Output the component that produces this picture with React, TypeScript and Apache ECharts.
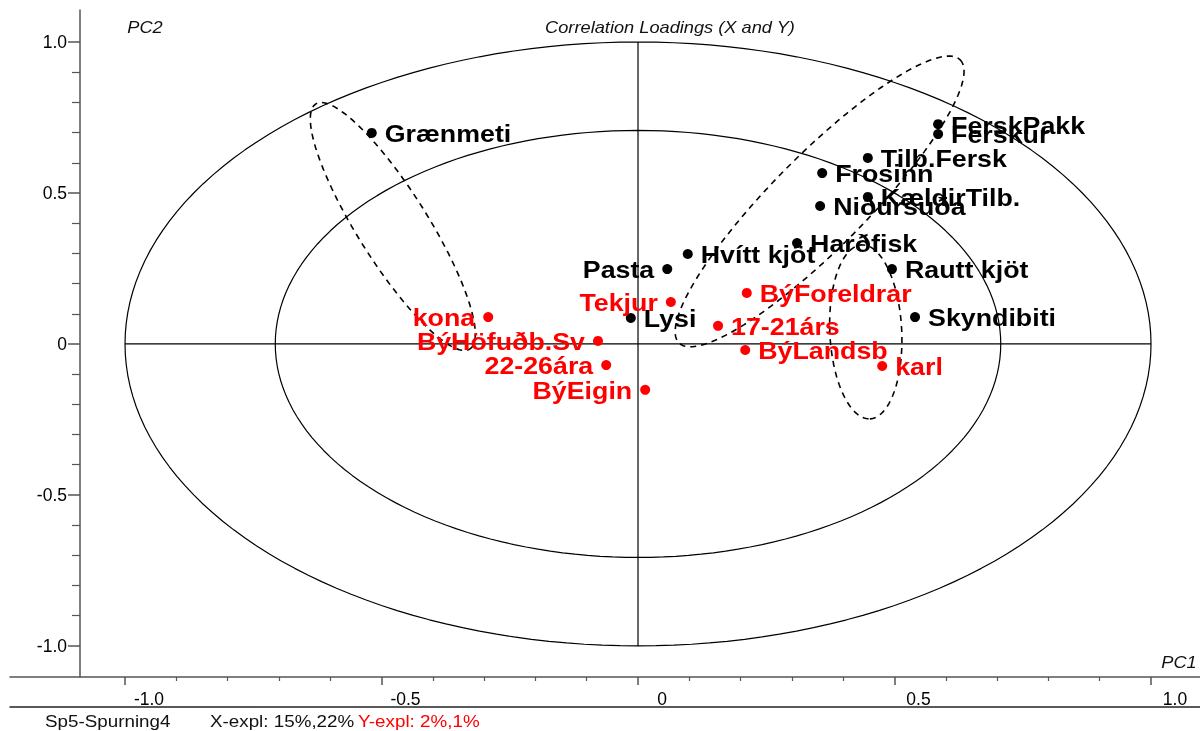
import React, { useEffect, useRef } from 'react';
import * as echarts from 'echarts';

// ---- Data: correlation loadings (PC1, PC2) ----
const blackNames = ['Grænmeti', 'FerskPakk', 'Ferskur', 'Tilb.Fersk', 'Frosinn', 'KældirTilb.', 'Niðursuða', 'Harðfisk', 'Hvítt kjöt', 'Pasta', 'Rautt kjöt', 'Lysi', 'Skyndibiti'];
const blackPC1 = [-0.519, 0.585, 0.585, 0.448, 0.359, 0.448, 0.355, 0.310, 0.097, 0.057, 0.495, -0.014, 0.540];
const blackPC2 = [0.699, 0.728, 0.695, 0.616, 0.566, 0.487, 0.457, 0.334, 0.298, 0.248, 0.248, 0.086, 0.089];
const blackSide = ['right', 'right', 'right', 'right', 'right', 'right', 'right', 'right', 'right', 'left', 'right', 'right', 'right'];

const redNames = ['kona', 'BýHöfuðb.Sv', '22-26ára', 'BýEigin', 'Tekjur', 'BýForeldrar', '17-21árs', 'BýLandsb', 'karl'];
const redPC1 = [-0.292, -0.078, -0.062, 0.014, 0.064, 0.212, 0.156, 0.209, 0.476];
const redPC2 = [0.089, 0.010, -0.070, -0.152, 0.139, 0.169, 0.060, -0.020, -0.073];
const redSide = ['left', 'left', 'left', 'left', 'left', 'right', 'right', 'right', 'right'];

// ---- Tick values ----
const majorTicks = [-1, -0.5, 0, 0.5, 1];
const minorTicks = [-0.9, -0.8, -0.7, -0.6, -0.4, -0.3, -0.2, -0.1, 0.1, 0.2, 0.3, 0.4, 0.6, 0.7, 0.8, 0.9];

// ---- Correlation circles (100% and 50% explained variance) ----
const circleRadii = [1, Math.SQRT1_2];

// ---- Dashed group outlines: centre and two conjugate semi-axis vectors ----
const ellipseCX = [-0.478, 0.354, 0.444];
const ellipseCY = [0.389, 0.472, 0.040];
const ellipseAX = [0.150, 0.274, 0.008];
const ellipseAY = [-0.406, 0.469, -0.288];
const ellipseBX = [0.058, 0.065, 0.070];
const ellipseBY = [0.062, -0.109, 0.006];

const fmt = (v: number) => (v === 0 ? '0' : v.toFixed(1));
const FONT = '"Liberation Sans", Arial, sans-serif';
const STRETCH = 1.14;

function ring(r: number) {
  const pts: number[][] = [];
  for (let i = 0; i <= 360; i += 2) {
    const t = (i * Math.PI) / 180;
    pts.push([r * Math.cos(t), r * Math.sin(t)]);
  }
  return pts;
}

function outline(k: number) {
  const pts: number[][] = [];
  for (let i = 0; i <= 360; i += 3) {
    const t = (i * Math.PI) / 180;
    pts.push([
      ellipseCX[k] + ellipseAX[k] * Math.cos(t) + ellipseBX[k] * Math.sin(t),
      ellipseCY[k] + ellipseAY[k] * Math.cos(t) + ellipseBY[k] * Math.sin(t),
    ]);
  }
  return pts;
}

function labelSeries(names: string[], xs: number[], ys: number[], sides: string[], color: string) {
  return {
    type: 'custom',
    xAxisIndex: 0,
    yAxisIndex: 0,
    silent: true,
    z: 6,
    data: xs.map((x, i) => [x, ys[i]]),
    renderItem: (params: any, api: any) => {
      const i = params.dataIndex;
      const p = api.coord([api.value(0), api.value(1)]);
      const right = sides[i] === 'right';
      return {
        type: 'text',
        x: p[0] + (right ? 13 : -13),
        y: p[1] + 1,
        scaleX: STRETCH,
        style: {
          text: names[i],
          fill: color,
          fontSize: 23.5,
          fontWeight: 'bold',
          fontFamily: FONT,
          align: right ? 'left' : 'right',
          verticalAlign: 'middle',
        },
      };
    },
  };
}

export default function App() {
  const ref = useRef<HTMLDivElement>(null);

  useEffect(() => {
    document.body.style.margin = '0';
    const chart = echarts.init(ref.current!, null, { renderer: 'svg' });
    const axisColor = '#555';
    const xMin = -1.2242;
    const xMax = 1.0955;
    const yMin = -1.103;
    const yMax = 1.106;

    const xBase = {
      type: 'value',
      gridIndex: 0,
      position: 'bottom',
      min: xMin,
      max: xMax,
      splitLine: { show: false },
    };
    const yBase = {
      type: 'value',
      gridIndex: 0,
      position: 'left',
      min: yMin,
      max: yMax,
      offset: -70,
      splitLine: { show: false },
    };

    const option: any = {
      animation: false,
      textStyle: { fontFamily: FONT },
      grid: { left: 10, right: 0, top: 10, bottom: 54 },
      xAxis: [
        {
          ...xBase,
          axisLine: { show: true, onZero: false, lineStyle: { color: axisColor, width: 1.5 } },
          axisTick: { show: true, inside: false, length: 8, customValues: majorTicks, lineStyle: { color: axisColor, width: 1.5 } },
          axisLabel: {
            show: true,
            customValues: majorTicks,
            formatter: fmt,
            fontSize: 17.5,
            color: '#000',
            margin: 13,
            padding: [0, 0, 0, 48],
          },
        },
        {
          ...xBase,
          axisLine: { show: false, onZero: false },
          axisTick: { show: true, inside: false, length: 4, customValues: minorTicks, lineStyle: { color: axisColor, width: 1.2 } },
          axisLabel: { show: false },
        },
        {
          ...xBase,
          offset: 30,
          axisLine: { show: true, onZero: false, lineStyle: { color: '#222', width: 1.5 } },
          axisTick: { show: false },
          axisLabel: { show: false },
        },
      ],
      yAxis: [
        {
          ...yBase,
          axisLine: { show: true, onZero: false, lineStyle: { color: axisColor, width: 1.5 } },
          axisTick: { show: true, inside: false, length: 12, customValues: majorTicks, lineStyle: { color: axisColor, width: 1.5 } },
          axisLabel: { show: true, customValues: majorTicks, formatter: fmt, fontSize: 17.5, color: '#000', margin: 13 },
        },
        {
          ...yBase,
          axisLine: { show: false, onZero: false },
          axisTick: { show: true, inside: false, length: 8, customValues: minorTicks, lineStyle: { color: axisColor, width: 1.2 } },
          axisLabel: { show: false },
        },
      ],
      graphic: [
        { type: 'text', x: 670, y: 27, scaleX: STRETCH, style: { text: 'Correlation Loadings (X and Y)', fontSize: 16, fontStyle: 'italic', fill: '#111', fontFamily: FONT, align: 'center', verticalAlign: 'middle' } },
        { type: 'text', x: 145, y: 27, scaleX: STRETCH, style: { text: 'PC2', fontSize: 16, fontStyle: 'italic', fill: '#111', fontFamily: FONT, align: 'center', verticalAlign: 'middle' } },
        { type: 'text', x: 1179, y: 662, scaleX: STRETCH, style: { text: 'PC1', fontSize: 16, fontStyle: 'italic', fill: '#111', fontFamily: FONT, align: 'center', verticalAlign: 'middle' } },
        { type: 'text', x: 45, y: 721, scaleX: STRETCH, style: { text: 'Sp5-Spurning4', fontSize: 16.5, fill: '#111', fontFamily: FONT, align: 'left', verticalAlign: 'middle' } },
        { type: 'text', x: 210, y: 721, scaleX: STRETCH, style: { text: 'X-expl: 15%,22%', fontSize: 16.5, fill: '#111', fontFamily: FONT, align: 'left', verticalAlign: 'middle' } },
        { type: 'text', x: 358, y: 721, scaleX: STRETCH, style: { text: 'Y-expl: 2%,1%', fontSize: 16.5, fill: '#ff0000', fontFamily: FONT, align: 'left', verticalAlign: 'middle' } },
      ],
      series: [
        ...circleRadii.map((r) => ({
          type: 'line',
          xAxisIndex: 0,
          yAxisIndex: 0,
          data: ring(r),
          showSymbol: false,
          silent: true,
          lineStyle: { color: '#000', width: 1.2 },
          z: 1,
        })),
        {
          type: 'line',
          xAxisIndex: 0,
          yAxisIndex: 0,
          data: [[-1, 0], [1, 0]],
          showSymbol: false,
          silent: true,
          lineStyle: { color: '#000', width: 1.2 },
          z: 1,
        },
        {
          type: 'line',
          xAxisIndex: 0,
          yAxisIndex: 0,
          data: [[0, -1], [0, 1]],
          showSymbol: false,
          silent: true,
          lineStyle: { color: '#000', width: 1.2 },
          z: 1,
        },
        ...[0, 1, 2].map((k) => ({
          type: 'line',
          xAxisIndex: 0,
          yAxisIndex: 0,
          data: outline(k),
          showSymbol: false,
          silent: true,
          lineStyle: { color: '#000', width: 1.6, type: [6, 5] },
          z: 2,
        })),
        {
          type: 'scatter',
          xAxisIndex: 0,
          yAxisIndex: 0,
          data: blackPC1.map((x, i) => [x, blackPC2[i]]),
          symbolSize: 10,
          itemStyle: { color: '#000', opacity: 1 },
          silent: true,
          z: 5,
        },
        {
          type: 'scatter',
          xAxisIndex: 0,
          yAxisIndex: 0,
          data: redPC1.map((x, i) => [x, redPC2[i]]),
          symbolSize: 10,
          itemStyle: { color: '#ff0000', opacity: 1 },
          silent: true,
          z: 5,
        },
        labelSeries(blackNames, blackPC1, blackPC2, blackSide, '#000'),
        labelSeries(redNames, redPC1, redPC2, redSide, '#ff0000'),
      ],
    };

    chart.setOption(option);
    return () => chart.dispose();
  }, []);

  return <div ref={ref} style={{ position: 'fixed', left: 0, top: 0, width: 1200, height: 731 }} />;
}
